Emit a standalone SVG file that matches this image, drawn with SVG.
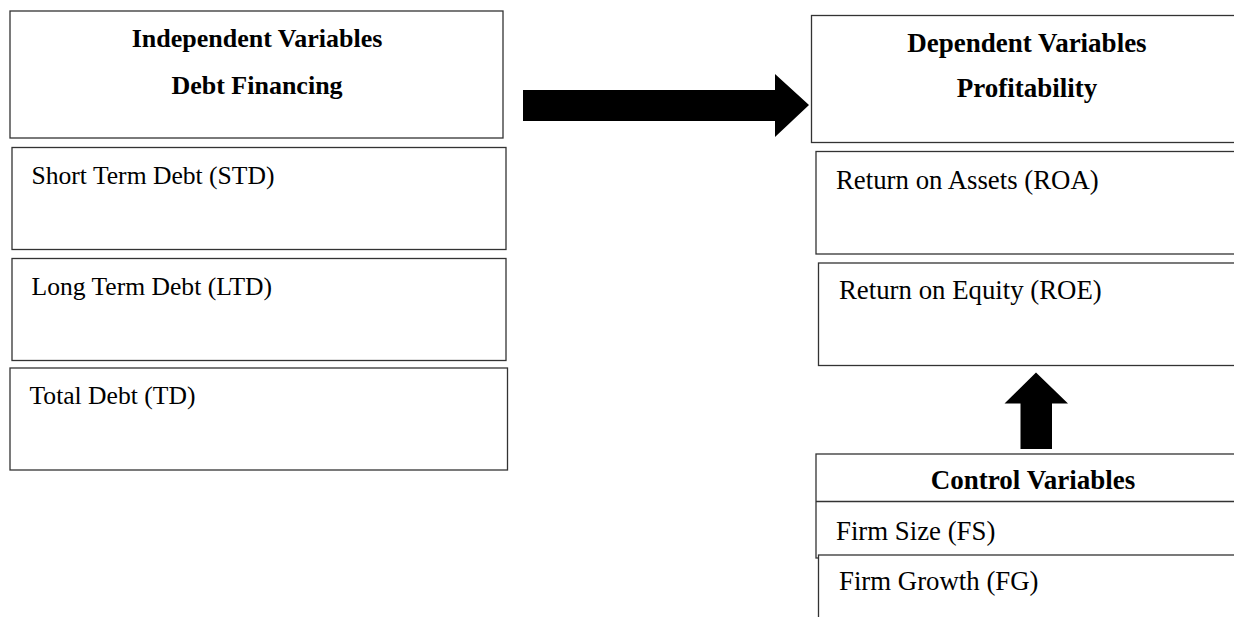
<svg xmlns="http://www.w3.org/2000/svg" width="1234" height="617" viewBox="0 0 1234 617">
<style>
.box{fill:#fff;stroke:#333;stroke-width:1.3}
.h{font-family:"Liberation Serif","Times New Roman",serif;font-weight:bold;font-size:26px;fill:#000;text-anchor:middle}
.hr{font-size:27px}
.t{font-family:"Liberation Serif","Times New Roman",serif;font-size:25.6px;fill:#000}
.tr{font-size:26.8px}
.arr{fill:#000}
</style>
<rect width="1234" height="617" fill="#fff"/>
<g id="independent">
<rect class="box" x="10" y="11" width="493" height="127"/>
<text class="h" x="257" y="47">Independent Variables</text>
<text class="h" x="257" y="94">Debt Financing</text>
</g>
<g id="std">
<rect class="box" x="12" y="147.5" width="494" height="102"/>
<text class="t" x="31.5" y="184">Short Term Debt (STD)</text>
</g>
<g id="ltd">
<rect class="box" x="12" y="258.5" width="494" height="102"/>
<text class="t" x="31.5" y="295">Long Term Debt (LTD)</text>
</g>
<g id="td">
<rect class="box" x="10" y="368" width="497.5" height="102"/>
<text class="t" x="29.5" y="404">Total Debt (TD)</text>
</g>
<g id="dependent">
<rect class="box" x="811.5" y="15.5" width="440" height="127"/>
<text class="h hr" x="1027" y="52">Dependent Variables</text>
<text class="h hr" x="1027" y="97">Profitability</text>
</g>
<g id="roa">
<rect class="box" x="816" y="151.5" width="440" height="102.5"/>
<text class="t tr" x="836" y="189">Return on Assets (ROA)</text>
</g>
<g id="roe">
<rect class="box" x="818.5" y="263" width="440" height="102.5"/>
<text class="t tr" x="839" y="299">Return on Equity (ROE)</text>
</g>
<g id="control">
<rect class="box" x="816" y="454" width="440" height="104"/>
<line x1="816" y1="501.5" x2="1234" y2="501.5" stroke="#333" stroke-width="1.3"/>
<text class="h hr" x="1033" y="489">Control Variables</text>
<text class="t tr" x="836" y="540">Firm Size (FS)</text>
</g>
<g id="firm-growth">
<rect class="box" x="818.5" y="555" width="440" height="80"/>
<text class="t tr" x="839" y="590">Firm Growth (FG)</text>
</g>
<g id="connectors">
<polygon class="arr" points="523,90 775,90 775,74 809,105 775,137 775,121 523,121"/>
<polygon class="arr" points="1036,372.5 1068,403.5 1052,403.5 1052,449 1020.5,449 1020.5,403.5 1004.5,403.5"/>
</g>
</svg>
